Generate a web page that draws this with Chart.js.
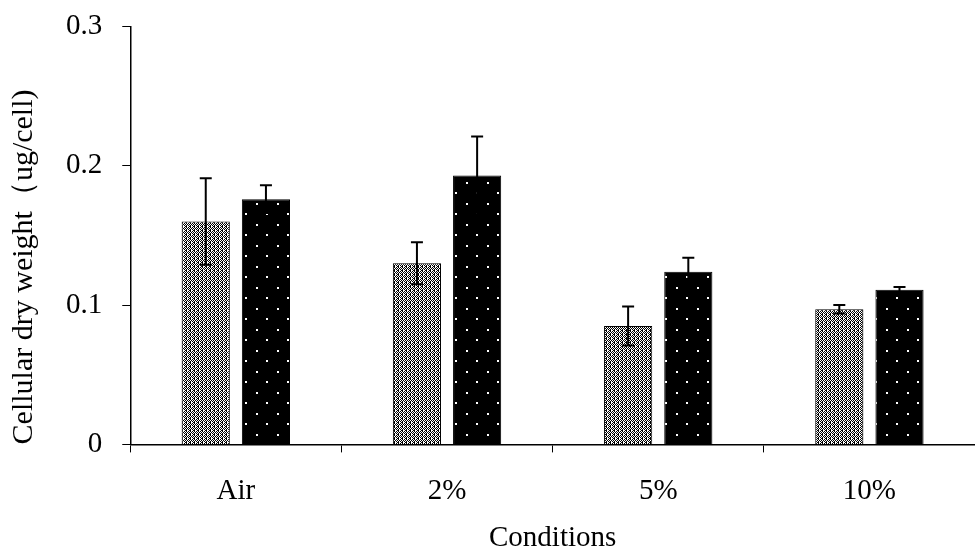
<!DOCTYPE html>
<html>
<head>
<meta charset="utf-8">
<script src="https://cdn.jsdelivr.net/npm/chart.js@4/dist/chart.umd.min.js"></script>
<style>
  html, body { margin: 0; padding: 0; background: #fff; overflow: hidden; }
  #wrap { position: relative; top: -11px; width: 975px; height: 569px; }
</style>
</head>
<body>
<div id="wrap"><canvas id="chart-area"></canvas></div>
<script>
var conditions = ["Air", "2%", "5%", "10%"];
var series1 = [0.160, 0.130, 0.085, 0.097];
var series1Err = [0.031, 0.015, 0.014, 0.003];
var series2 = [0.176, 0.193, 0.124, 0.111];
var series2Err = [0.010, 0.028, 0.010, 0.002];
var yTicks = [0, 0.1, 0.2, 0.3];

// hatch fills like the excel patterns
function checkerPattern() {
    var c = document.createElement("canvas");
    c.width = 4; c.height = 4;
    var g = c.getContext("2d");
    g.fillStyle = "#fff";
    g.fillRect(0, 0, 4, 4);
    g.fillStyle = "#000";
    g.fillRect(0, 0, 1, 1);
    g.fillRect(2, 0, 1, 1);
    g.fillRect(1, 1, 2, 1);
    g.fillRect(0, 2, 1, 1);
    g.fillRect(2, 2, 1, 1);
    g.fillRect(3, 3, 1, 1);
    g.fillRect(1, 3, 1, 1);
    return g.createPattern(c, "repeat");
}

function dotPattern() {
    var c = document.createElement("canvas");
    c.width = 21; c.height = 21;
    var g = c.getContext("2d");
    g.fillStyle = "#000";
    g.fillRect(0, 0, 21, 21);
    g.fillStyle = "#fff";
    g.fillRect(4, 4, 2, 2);
    g.fillRect(14, 14, 2, 2);
    return g.createPattern(c, "repeat");
}

var errorBars = {
    id: "errorBars",
    afterDatasetsDraw: function (chart) {
        var ctx = chart.ctx;
        var y = chart.scales.y;
        var errs = [series1Err, series2Err];
        ctx.save();
        ctx.strokeStyle = "#000";
        ctx.lineWidth = 2;
        chart.data.datasets.forEach(function (ds, i) {
            var meta = chart.getDatasetMeta(i);
            meta.data.forEach(function (bar, j) {
                var v = ds.data[j], e = errs[i][j];
                var top = y.getPixelForValue(v + e);
                var bot = y.getPixelForValue(v - e);
                ctx.beginPath();
                ctx.moveTo(bar.x, top);
                ctx.lineTo(bar.x, bot);
                ctx.moveTo(bar.x - 6, top);
                ctx.lineTo(bar.x + 6, top);
                ctx.moveTo(bar.x - 6, bot);
                ctx.lineTo(bar.x + 6, bot);
                ctx.stroke();
            });
        });
        ctx.restore();
    }
};

var font = { family: "'Liberation Serif', 'Times New Roman', serif", size: 29 };

var ctx = document.getElementById("chart-area");
var myChart = new Chart(ctx, {
    type: "bar",
    data: {
        labels: conditions,
        datasets: [
            {
                label: "series 1",
                data: series1,
                backgroundColor: checkerPattern(),
                borderColor: "#000",
                borderWidth: 1,
                categoryPercentage: 0.57,
                barPercentage: 0.8
            },
            {
                label: "series 2",
                data: series2,
                backgroundColor: dotPattern(),
                borderColor: "#000",
                borderWidth: 1,
                categoryPercentage: 0.57,
                barPercentage: 0.8
            }
        ]
    },
    options: {
        responsive: true,
        maintainAspectRatio: false,
        animation: false,
        layout: { padding: { top: 0, right: 0, left: 2, bottom: 2 } },
        plugins: {
            legend: { display: false },
            tooltip: { enabled: false }
        },
        scales: {
            x: {
                grid: {
                    offset: true,
                    drawOnChartArea: false,
                    drawTicks: true,
                    tickLength: 8,
                    color: "#000"
                },
                border: { color: "#000", width: 1.5 },
                ticks: { color: "#000", font: font, padding: 22 },
                title: {
                    display: true,
                    text: "Conditions",
                    color: "#000",
                    font: font,
                    padding: { top: -10, bottom: 0 }
                }
            },
            y: {
                min: 0,
                max: 0.3,
                afterBuildTicks: function (scale) {
                    scale.ticks = yTicks.map(function (v) { return { value: v }; });
                },
                grid: {
                    drawOnChartArea: false,
                    drawTicks: true,
                    tickLength: 8,
                    color: "#000"
                },
                border: { color: "#000", width: 1.5 },
                ticks: { color: "#000", font: font, padding: 20 },
                title: {
                    display: true,
                    align: "start",
                    text: "Cellular dry weight（ug/cell)",
                    color: "#000",
                    font: { family: font.family, size: 30 },
                    padding: { bottom: 4 }
                }
            }
        }
    },
    plugins: [errorBars]
});
</script>
</body>
</html>
